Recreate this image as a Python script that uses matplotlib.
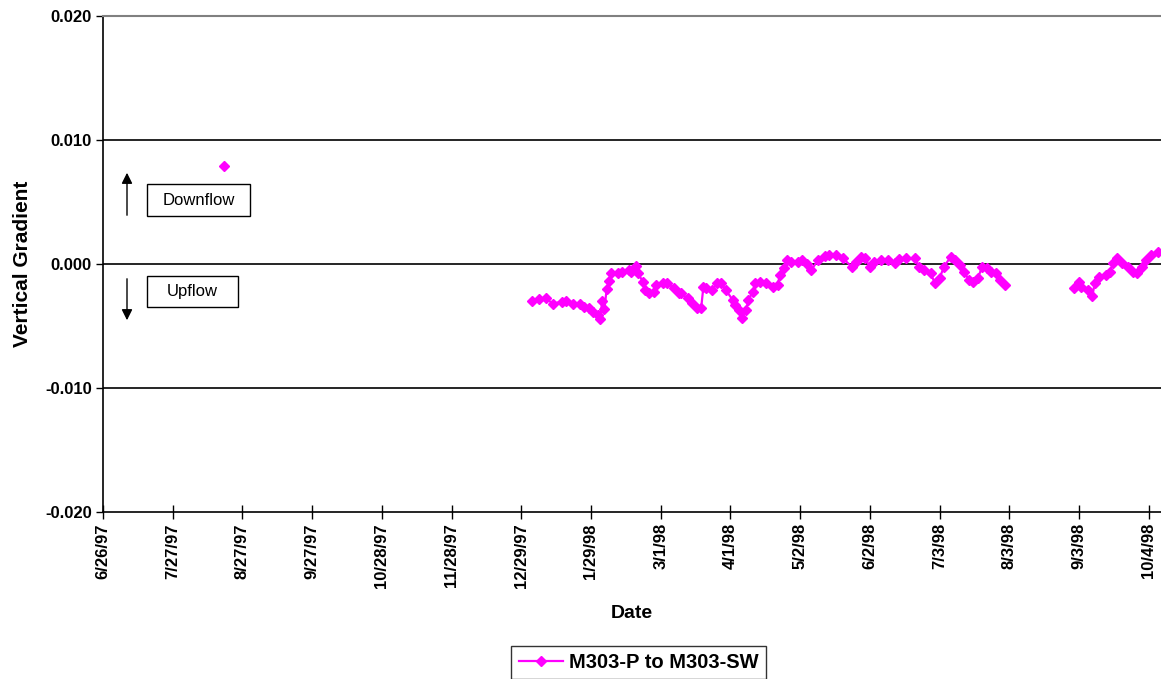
import datetime as dt
import numpy as np
import matplotlib
matplotlib.use("Agg")
import matplotlib.pyplot as plt
import matplotlib.dates as mdates
from matplotlib.ticker import FuncFormatter, FixedLocator
from matplotlib.patches import Rectangle

plt.rcParams['font.family'] = ['Liberation Sans', 'DejaVu Sans']

# readings (m/d/yy, gradient); None splits the series into separate runs
dates = ["8/19/97", "8/20/97",
         "1/3/98", "1/6/98", "1/9/98", "1/12/98", "1/16/98", "1/18/98", "1/21/98", "1/24/98",
         "1/26/98", "1/28/98", "1/30/98", "2/1/98", "2/2/98", "2/3/98", "2/4/98", "2/5/98",
         "2/6/98", "2/7/98", "2/10/98", "2/12/98", "2/15/98", "2/16/98", "2/18/98", "2/19/98",
         "2/21/98", "2/22/98", "2/24/98", "2/26/98", "2/27/98", "3/2/98", "3/4/98", "3/7/98",
         "3/9/98", "3/10/98", "3/13/98", "3/15/98", "3/17/98", "3/19/98", "3/20/98", "3/21/98",
         "3/24/98", "3/26/98", "3/28/98", "3/30/98", "4/2/98", "4/3/98", "4/5/98", "4/6/98",
         "4/8/98", "4/9/98", "4/11/98", "4/12/98", "4/14/98", "4/17/98", "4/20/98", "4/22/98",
         "4/23/98", "4/25/98", "4/26/98", "4/28/98", "5/1/98", "5/3/98", "5/5/98", "5/7/98",
         "5/10/98", "5/13/98", "5/15/98", "5/18/98", "5/21/98", "5/25/98", "5/27/98", "5/29/98",
         "5/31/98", "6/2/98", "6/4/98", "6/7/98", "6/10/98", "6/13/98", "6/15/98", "6/18/98",
         "6/22/98", "6/24/98", "6/26/98", "6/29/98", "7/1/98", "7/3/98", "7/5/98", "7/8/98",
         "7/10/98", "7/12/98", "7/14/98", "7/16/98", "7/18/98", "7/20/98", "7/22/98", "7/24/98",
         "7/26/98", "7/28/98", "7/30/98", "8/1/98", "8/15/98",
         "9/1/98", "9/3/98", "9/4/98", "9/7/98", "9/9/98", "9/10/98", "9/12/98", "9/15/98",
         "9/17/98", "9/18/98", "9/20/98", "9/22/98", "9/25/98", "9/27/98", "9/29/98", "10/1/98",
         "10/3/98", "10/5/98", "10/8/98"]
gradient = [0.0079, None,
            -0.0030, -0.00285, -0.00277, -0.0032, -0.00304, -0.00296, -0.0032, -0.0032,
            -0.00344, -0.00357, -0.00384, -0.0041, -0.00446, -0.0030, -0.0036, -0.0020,
            -0.0014, -0.00075, -0.00075, -0.00062, -0.00048, -0.00062, -0.00016, -0.00075,
            -0.00142, -0.0021, -0.00237, -0.00223, -0.0017, -0.00156, -0.00156, -0.00196,
            -0.00237, -0.00237, -0.00277, -0.00317, -0.00357, -0.00357, -0.00183, -0.00196,
            -0.0021, -0.00156, -0.00156, -0.0021, -0.0029, -0.0033, -0.0037, -0.00438,
            -0.0037, -0.0029, -0.00223, -0.00156, -0.00142, -0.00156, -0.00183, -0.0017,
            -0.00089, -0.00035, 0.00032, 0.00019, 0.00019, 0.00032, 0.0, -0.00048,
            0.00032, 0.00065, 0.00073, 0.00073, 0.00046, -0.00022, 0.00019, 0.00059,
            0.00046, -0.00022, 0.00019, 0.00032, 0.00032, 0.00006, 0.00038, 0.00046,
            0.00046, -0.00022, -0.00048, -0.00075, -0.00156, -0.00115, -0.00022, 0.00059,
            0.00032, -0.00008, -0.00062, -0.00129, -0.00142, -0.00115, -0.00022, -0.00035,
            -0.00062, -0.00075, -0.00129, -0.0017, None,
            -0.00196, -0.00142, -0.00183, -0.0021, -0.00258, -0.00156, -0.00102, -0.00089,
            -0.00062, 0.00006, 0.00046, 0.00006, -0.00022, -0.00062, -0.00075, -0.00022,
            0.00032, 0.00073, 0.00099]

series_name = "M303-P to M303-SW"
y_ticks = [-0.020, -0.010, 0.000, 0.010, 0.020]

x = [dt.datetime.strptime(d, "%m/%d/%y") for d in dates]
y = np.array([np.nan if v is None else v for v in gradient])

W, H = 1161, 679
fig = plt.figure(figsize=(W / 100, H / 100), dpi=100)
ax = fig.add_axes([103 / W, 1 - 512 / H, (W - 103) / W, (512 - 16) / H])

ax.plot(x, y, color='#FF00FF', lw=1.6, marker='D', ms=5, mec='#FF00FF',
        mfc='#FF00FF', label=series_name, zorder=3)

for v in y_ticks[1:-1]:
    ax.axhline(v, color='black', lw=1.2, zorder=1)

start = dt.datetime(1997, 6, 26)
ax.set_xlim(start, start + dt.timedelta(days=470.5))
ax.set_ylim(-0.020, 0.020)

xt = [start + dt.timedelta(days=31 * i) for i in range(16)]
ax.xaxis.set_major_locator(FixedLocator(mdates.date2num(xt)))
ax.xaxis.set_major_formatter(FuncFormatter(
    lambda v, p: (lambda d: f"{d.month}/{d.day}/{d:%y}")(mdates.num2date(v))))
ax.set_yticks(y_ticks)
ax.yaxis.set_major_formatter(FuncFormatter(lambda v, p: f"{v:.3f}"))

ax.tick_params(axis='x', direction='inout', length=10, width=1, labelsize=12,
               labelrotation=90, pad=3)
ax.tick_params(axis='y', direction='out', length=5, width=1, labelsize=12, pad=3)
for lab in ax.get_xticklabels() + ax.get_yticklabels():
    lab.set_fontweight('bold')

ax.spines['right'].set_visible(False)
ax.spines['top'].set_color('#808080')
ax.spines['top'].set_linewidth(1.5)
ax.spines['left'].set_linewidth(1.2)
ax.spines['bottom'].set_linewidth(1.2)

ax.set_xlabel("Date", fontsize=14, fontweight='bold', labelpad=12)
fig.text(23 / W, 1 - 264 / H, "Vertical Gradient", rotation=90, fontsize=15,
         fontweight='bold', ha='center', va='center')

# Downflow / Upflow notes
def note(x0, y0, x1, y1, txt):
    fig.patches.append(Rectangle((x0 / W, 1 - y1 / H), (x1 - x0) / W, (y1 - y0) / H,
                                 transform=fig.transFigure, fc='white', ec='black',
                                 lw=1, zorder=5))
    fig.text((x0 + x1) / 2 / W, 1 - (y0 + y1) / 2 / H, txt, fontsize=12,
             ha='center', va='center', zorder=6)

note(147, 184, 250, 216, "Downflow")
note(147, 276, 238, 307, "Upflow")
ax.annotate("", xy=(127 / W, 1 - 170 / H), xytext=(127 / W, 1 - 218 / H),
            xycoords='figure fraction', textcoords='figure fraction',
            arrowprops=dict(arrowstyle='-|>', color='black', lw=1, mutation_scale=16))
ax.annotate("", xy=(127 / W, 1 - 323 / H), xytext=(127 / W, 1 - 276 / H),
            xycoords='figure fraction', textcoords='figure fraction',
            arrowprops=dict(arrowstyle='-|>', color='black', lw=1, mutation_scale=16))

leg = fig.legend(loc='upper center', bbox_to_anchor=(638.5 / W, 1 - 646 / H),
                 frameon=True, fancybox=False, edgecolor='black',
                 prop={'weight': 'bold', 'size': 14.5}, handlelength=2.2,
                 borderpad=0.35, handletextpad=0.3, borderaxespad=0)
leg.get_frame().set_linewidth(1)

fig.savefig("out.png", dpi=100)
